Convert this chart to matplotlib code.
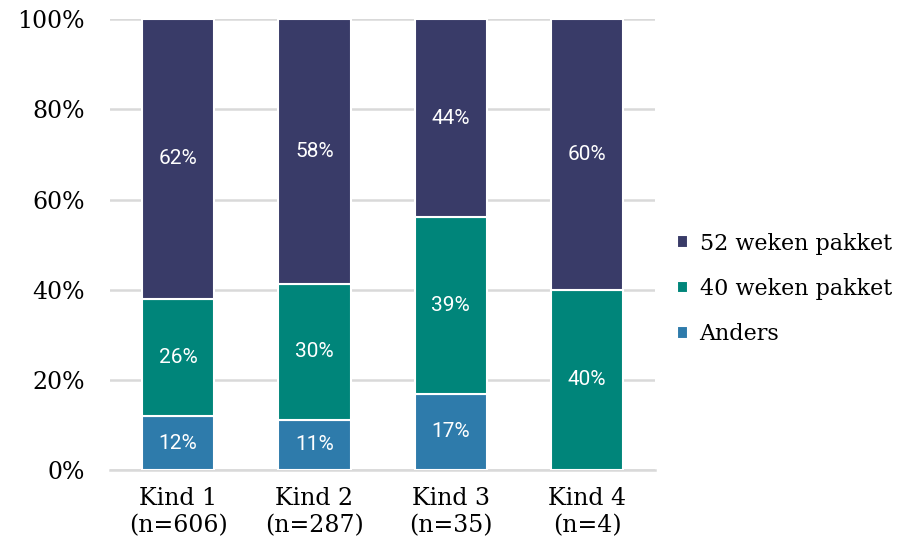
import numpy as np
import matplotlib
matplotlib.use("Agg")
import matplotlib.pyplot as plt
from matplotlib.ticker import FuncFormatter

# data
categories = ["Kind 1\n(n=606)", "Kind 2\n(n=287)", "Kind 3\n(n=35)", "Kind 4\n(n=4)"]
anders = [12, 11, 17, 0]
wk40 = [26, 30, 39, 40]
wk52 = [62, 58, 44, 60]
# shown totals differ slightly from 100 because of rounding; bars fill to 100
anders_h = [12, 11.2, 16.9, 0]
wk40_h = [26, 30.1, 39.2, 40]
wk52_h = [62, 58.7, 43.9, 60]

kleuren = {"Anders": "#2E7BAB", "40 weken pakket": "#00857A", "52 weken pakket": "#393B68"}

plt.rcParams['font.family'] = ['DejaVu Serif']

fig = plt.figure(figsize=(9.13, 5.46), dpi=100)
ax = fig.add_axes([0.1205, 0.139, 0.597, 0.826])

x = np.arange(len(categories))
w = 0.53
onder = np.zeros(len(categories))
bars = {}
for naam, hoogte, label in [("Anders", anders_h, anders),
                            ("40 weken pakket", wk40_h, wk40),
                            ("52 weken pakket", wk52_h, wk52)]:
    b = ax.bar(x, hoogte, w, bottom=onder, color=kleuren[naam],
               edgecolor="white", linewidth=1.5, label=naam, zorder=3)
    bars[naam] = b
    for xi, h, o, l in zip(x, hoogte, onder, label):
        if l > 0:
            ax.text(xi, o + h / 2, "%d%%" % l, ha="center", va="center",
                    color="white", fontsize=15, family="Roboto", zorder=4)
    onder = onder + np.array(hoogte)

ax.set_xlim(-0.5, 3.5)
ax.set_ylim(0, 100)
ax.set_yticks([0, 20, 40, 60, 80, 100])
ax.yaxis.set_major_formatter(FuncFormatter(lambda v, p: "%d%%" % v))
ax.set_xticks(x)
ax.set_xticklabels(categories, fontsize=17, linespacing=1.25)
ax.tick_params(axis="y", labelsize=17, length=0, pad=18)
ax.tick_params(axis="x", length=0, pad=12)
ax.grid(axis="y", color="#D9D9D9", linewidth=1.8, zorder=0)
for s in ["top", "right", "left"]:
    ax.spines[s].set_visible(False)
ax.spines["bottom"].set_color("#D9D9D9")
ax.spines["bottom"].set_linewidth(1.8)

handles = [bars["52 weken pakket"], bars["40 weken pakket"], bars["Anders"]]
namen = ["52 weken pakket", "40 weken pakket", "Anders"]
fig.legend(handles, namen, loc="center left", bbox_to_anchor=(0.72, 0.471),
           frameon=False, fontsize=16, handlelength=0.5, handleheight=0.5,
           handletextpad=0.5, labelspacing=1.05)

fig.savefig("out.png", dpi=100)
